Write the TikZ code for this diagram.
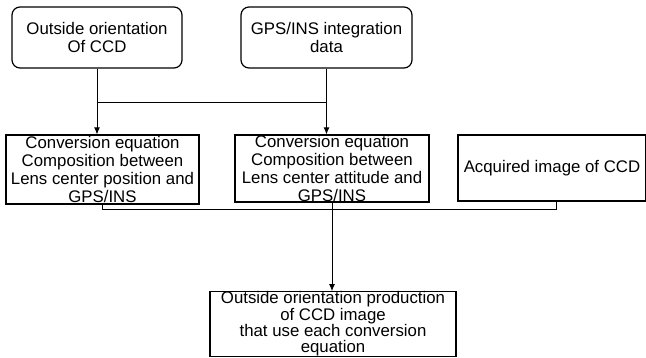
\documentclass[tikz,border=0pt]{standalone}
\usepackage{fontspec}
\setmainfont{Liberation Sans}
\usetikzlibrary{arrows.meta}
\begin{document}
\begin{tikzpicture}[x=1pt,y=-1pt,
  box/.style={draw,line width=1.2pt,inner sep=0pt,align=center},
  rbox/.style={box,rounded corners=8pt,font=\fontsize{16.8}{18}\selectfont},
  midfont/.style={font=\fontsize{16.8}{17.8}\selectfont},
  wire/.style={line width=0.9pt},
  arr/.style={wire,-{Latex[length=7pt,width=6pt]}}]
\useasboundingbox (0,0) rectangle (646,358);

% input boxes
\node[rbox,minimum width=170pt,minimum height=61pt] (tl) at (97,37.5)
  {Outside orientation\\Of CCD};
\node[rbox,minimum width=171pt,minimum height=61pt] (tr) at (326.5,37.5)
  {GPS/INS integration\\data};

% conversion boxes
\node[box,midfont,minimum width=193pt,minimum height=69pt] (m1) at (102.5,169.5)
  {Conversion equation\\Composition between\\Lens center position and\\GPS/INS};
\node[box,midfont,minimum width=194pt,minimum height=67pt] (m2) at (332,168.5)
  {Conversion equation\\Composition between\\Lens center attitude and\\GPS/INS};
\node[box,midfont,minimum width=188pt,minimum height=66pt] (m3) at (552,168)
  {Acquired image of CCD};

% result box
\node[box,font=\fontsize{16.8}{16.3}\selectfont,minimum width=246pt,minimum height=63pt]
  (out) at (333,324)
  {Outside orientation production\\of CCD image\\that use each conversion\\equation};

% inputs feed both conversion boxes
\coordinate (j1) at (tl.south |- 0,102);
\coordinate (j2) at (tr.south |- 0,102);
\draw[arr] (tl.south) -- (tl.south |- m1.north);
\draw[arr] (tr.south) -- (tr.south |- m2.north);
\draw[wire] (j1) -- (j2);

% collecting line under the conversion boxes
\coordinate (c1) at (m1.south |- 0,209);
\coordinate (c3) at (556,209);
\draw[wire] (m1.south) -- (c1) -- (c3) -- (c3 |- m3.south);
\draw[arr] (m2.south) -- (m2.south |- out.north);
\end{tikzpicture}
\end{document}
